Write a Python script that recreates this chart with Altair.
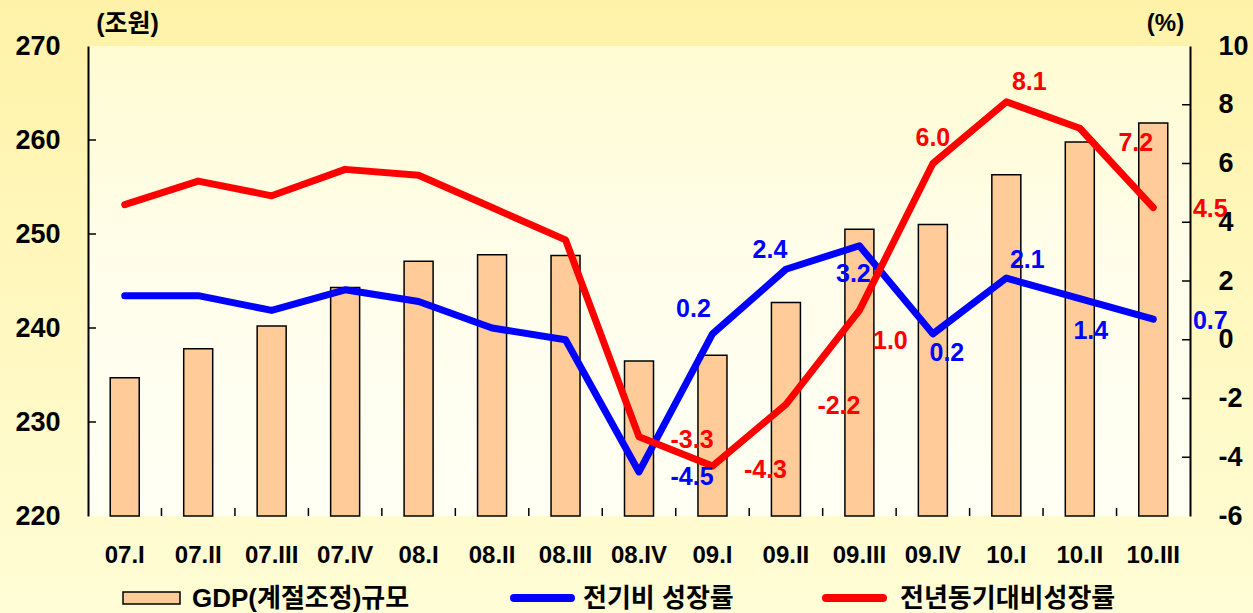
import altair as alt
import pandas as pd

# Quarterly GDP (seasonally adjusted, trillion won) and growth rates (%)
quarters = ["07.I", "07.II", "07.III", "07.IV", "08.I", "08.II", "08.III", "08.IV",
            "09.I", "09.II", "09.III", "09.IV", "10.I", "10.II", "10.III"]
gdp_level = [234.7, 237.8, 240.2, 244.3, 247.1, 247.8, 247.7, 236.5,
             237.1, 242.7, 250.5, 251.0, 256.3, 259.8, 261.8]
qoq_growth = [1.5, 1.5, 1.0, 1.7, 1.3, 0.4, 0.0, -4.5,
              0.2, 2.4, 3.2, 0.2, 2.1, 1.4, 0.7]
yoy_growth = [4.6, 5.4, 4.9, 5.8, 5.6, 4.5, 3.4, -3.3,
              -4.3, -2.2, 1.0, 6.0, 8.1, 7.2, 4.5]

left_ticks = [230, 240, 250, 260]
right_ticks = [-4, -2, 0, 2, 4, 6, 8]

# label placement (pixel offsets from each point) for the labelled quarters
qoq_label_offsets = {7: (53, 5), 8: (-19, -25), 9: (-16, -19), 10: (-6, 28),
                     11: (14, 19), 12: (21, -18), 13: (11, 32), 14: (57, 2)}
yoy_label_offsets = {7: (53, 3), 8: (53, 4), 9: (53, 2), 10: (31, 31),
                     11: (0, -26), 12: (23, -20), 13: (56, 15), 14: (57, 1)}

W, H = 1102, 470
FONT = "Liberation Sans"
KFONT = "Liberation Sans, Noto Sans CJK KR"
BAR_FILL = "#FFCC99"
BLUE = "#0000FF"
RED = "#FF0000"

df = pd.DataFrame({
    "idx": list(range(len(quarters))),
    "quarter": quarters,
    "gdp": gdp_level,
    "qoq": qoq_growth,
    "yoy": yoy_growth,
})
df["qoq_txt"] = [f"{v:.1f}" for v in qoq_growth]
df["yoy_txt"] = [f"{v:.1f}" for v in yoy_growth]

one = pd.DataFrame({"k": [0]})

x_scale = alt.Scale(domain=quarters, paddingInner=0, paddingOuter=0)
left_scale = alt.Scale(domain=[220, 270], zero=False, nice=False)
right_scale = alt.Scale(domain=[-6, 10], zero=False, nice=False)


def xq(**kw):
    return alt.X("quarter:N", sort=quarters, scale=x_scale, axis=None, **kw)


# page and plot-area backgrounds
outer_bg = alt.Chart(one).mark_rect(
    fill=alt.LinearGradient(
        gradient="linear", x1=0, x2=0, y1=0, y2=1,
        stops=[alt.GradientStop(color="#FFF2A8", offset=0),
               alt.GradientStop(color="#FFFDD6", offset=1)])
).encode(x=alt.value(-88), x2=alt.value(W + 63), y=alt.value(-46), y2=alt.value(H + 97))

plot_bg = alt.Chart(one).mark_rect(
    fill=alt.LinearGradient(
        gradient="linear", x1=0, x2=0, y1=0, y2=1,
        stops=[alt.GradientStop(color="#FFFBD2", offset=0),
               alt.GradientStop(color="#FFFEEC", offset=0.5),
               alt.GradientStop(color="#FFFFF4", offset=1)])
).encode(x=alt.value(0), x2=alt.value(W), y=alt.value(0), y2=alt.value(H))

# category boundary ticks along the bottom
x_tick_marks = alt.Chart(df[df["idx"] > 0]).mark_rule(color="black", strokeWidth=1.5).encode(
    x=xq(bandPosition=0), y=alt.value(H), y2=alt.value(H - 8))

# quarter names under each band
x_labels = alt.Chart(df).mark_text(align="center", baseline="middle", font=FONT,
                                   fontSize=24, fontWeight="bold", color="black").encode(
    x=xq(), y=alt.value(H + 40), text="quarter:N")

# GDP bars on the left axis
bars = alt.Chart(df).mark_bar(width=29, fill=BAR_FILL, stroke="black", strokeWidth=1.5).encode(
    x=xq(),
    y=alt.Y("gdp:Q", scale=left_scale,
            axis=alt.Axis(orient="left", title="(조원)", titleAngle=0, titleX=39, titleY=-23,
                          titleAlign="center", titleBaseline="middle",
                          titleFont=KFONT, titleFontSize=25, titleFontWeight="bold",
                          titleColor="black", values=[220, 230, 240, 250, 260, 270],
                          labelFontSize=27, labelFont=FONT, labelFontWeight="bold",
                          labelColor="black", labelPadding=28, ticks=False,
                          domainColor="black", domainWidth=2, grid=False, zindex=1)),
    y2=alt.datum(220),
)

left_tick_df = pd.DataFrame({"t": left_ticks})
left_tick_marks = alt.Chart(left_tick_df).mark_rule(color="black", strokeWidth=1.5).encode(
    y=alt.Y("t:Q", scale=left_scale, axis=None), x=alt.value(0), x2=alt.value(8))

# growth-rate lines on the right axis
blue_line = alt.Chart(df).mark_line(color=BLUE, strokeWidth=7, strokeCap="round",
                                    strokeJoin="round").encode(
    x=xq(),
    y=alt.Y("qoq:Q", scale=right_scale,
            axis=alt.Axis(orient="right", title="(%)", titleAngle=0, titleX=-25, titleY=-23,
                          titleAlign="center", titleBaseline="middle",
                          titleFont=FONT, titleFontSize=24, titleFontWeight="bold",
                          titleColor="black", values=list(range(-6, 11, 2)),
                          labelExpr="datum.value + ''",
                          labelFontSize=27, labelFont=FONT, labelFontWeight="bold",
                          labelColor="black", labelPadding=28, ticks=False,
                          domainColor="black", domainWidth=2, grid=False, zindex=1)),
)
red_line = alt.Chart(df).mark_line(color=RED, strokeWidth=7, strokeCap="round",
                                   strokeJoin="round").encode(
    x=xq(), y=alt.Y("yoy:Q", scale=right_scale, axis=None))

right_tick_df = pd.DataFrame({"t": right_ticks})
right_tick_marks = alt.Chart(right_tick_df).mark_rule(color="black", strokeWidth=1.5).encode(
    y=alt.Y("t:Q", scale=right_scale, axis=None), x=alt.value(W - 8), x2=alt.value(W))


def value_labels(field, text_field, color, offsets):
    layers = []
    for i, (dx, dy) in offsets.items():
        layers.append(
            alt.Chart(df).transform_filter(alt.datum.idx == i).mark_text(
                dx=dx, dy=dy, align="center", baseline="middle", font=FONT,
                fontSize=25, fontWeight="bold", color=color
            ).encode(x=xq(),
                     y=alt.Y(f"{field}:Q", scale=right_scale, axis=None),
                     text=f"{text_field}:N")
        )
    return layers


# legend row under the category labels
leg_y = H + 82
leg_bar = alt.Chart(one).mark_rect(fill=BAR_FILL, stroke="black", strokeWidth=1.5).encode(
    x=alt.value(35), x2=alt.value(92), y=alt.value(leg_y - 6), y2=alt.value(leg_y + 6))
leg_blue = alt.Chart(one).mark_rule(color=BLUE, strokeWidth=8, strokeCap="round").encode(
    x=alt.value(426), x2=alt.value(483), y=alt.value(leg_y))
leg_red = alt.Chart(one).mark_rule(color=RED, strokeWidth=8, strokeCap="round").encode(
    x=alt.value(738), x2=alt.value(795), y=alt.value(leg_y))


def leg_text(x, s):
    return alt.Chart(one).mark_text(align="left", baseline="middle", font=KFONT,
                                    fontSize=26, fontWeight="bold", color="black").encode(
        x=alt.value(x), y=alt.value(leg_y + 1), text=alt.value(s))


chart = alt.layer(
    outer_bg, plot_bg, x_tick_marks, x_labels, bars, left_tick_marks, right_tick_marks,
    blue_line, red_line,
    *value_labels("qoq", "qoq_txt", BLUE, qoq_label_offsets),
    *value_labels("yoy", "yoy_txt", RED, yoy_label_offsets),
    leg_bar, leg_text(104, "GDP(계절조정)규모"),
    leg_blue, leg_text(495, "전기비 성장률"),
    leg_red, leg_text(812, "전년동기대비성장률"),
).resolve_scale(y="independent").properties(
    width=W, height=H,
    autosize=alt.AutoSizeParams(type="none"),
    padding={"left": 88, "top": 46, "right": 63, "bottom": 97},
    background="#FFF8C4",
).configure_view(stroke="black", strokeWidth=2, fill=None).configure_axis(zindex=1)

chart.save("out.html", embed_options={"renderer": "svg", "actions": False})
